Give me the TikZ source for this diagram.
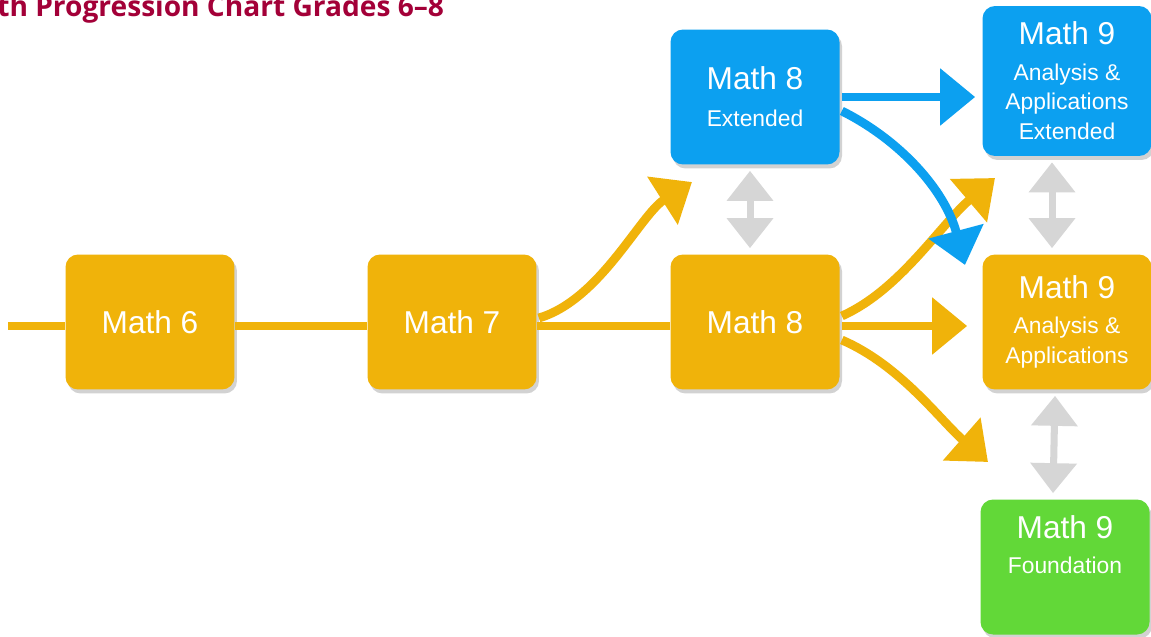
\documentclass[tikz,border=0pt]{standalone}
\usepackage{fontspec}
\setmainfont{Liberation Sans}
\newfontfamily\titlefont{Open Sans}
\usetikzlibrary{arrows.meta,shadows,calc}
\definecolor{mathorange}{RGB}{240,179,10}
\definecolor{mathblue}{RGB}{12,160,240}
\definecolor{mathgreen}{RGB}{98,216,56}
\definecolor{swapgray}{RGB}{214,214,214}
\definecolor{titlered}{RGB}{163,0,56}
\newcommand{\sublabel}[1]{{\fontsize{13}{17}\selectfont #1}}

\begin{document}
\begin{tikzpicture}[x=0.02cm, y=-0.02cm,
        course/.style={rectangle, rounded corners=0.25cm, minimum width=3.38cm, minimum height=2.7cm, align=center, text=white, inner sep=2pt, font=\fontsize{18}{20}\selectfont, drop shadow={shadow xshift=0.05cm, shadow yshift=-0.08cm, opacity=0.35}},
        flowline/.style={line width=5pt, draw=mathorange},
        flow/.style={flowline, -{Triangle[length=0.7cm, width=1.1cm]}},
        bluflow/.style={line width=5pt, draw=mathblue, -{Triangle[length=0.7cm, width=1.1cm]}},
        swap/.style={line width=4pt, draw=swapgray, {Triangle[length=0.6cm, width=0.9cm]}-{Triangle[length=0.6cm, width=0.9cm]}}
    ]
        \useasboundingbox (0,0) rectangle (1151,636);
        \fill[white] (0,0) rectangle (1151,636);
        \clip (0,0) rectangle (1151,636);

        % Title
        \node[anchor=base west, inner sep=0, text=titlered, font=\titlefont\bfseries\fontsize{16}{18}\selectfont] (title) at (-3,16) {th Progression Chart Grades 6–8};

        % Grade 6-8 courses
        \node[course, fill=mathorange] (m6) at (150,322) {Math 6};
        \node[course, fill=mathorange] (m7) at (452,322) {Math 7};
        \node[course, fill=mathorange] (m8) at (755,322) {Math 8};
        \node[course, fill=mathblue] (m8e) at (755,97) {Math 8\\[1pt] \sublabel{Extended}};

        % Grade 9 courses
        \node[course, fill=mathblue, minimum height=3cm] (m9e) at (1067,81) {Math 9\\ \sublabel{Analysis \&}\\[-3pt] \sublabel{Applications}\\[-3pt] \sublabel{Extended}};
        \node[course, fill=mathorange] (m9aa) at (1067,322) {Math 9\\ \sublabel{Analysis \&}\\[-3pt] \sublabel{Applications}};
        \node[course, fill=mathgreen] (m9f) at (1065,567) {Math 9\\ \sublabel{Foundation}\\ \strut};

        % Free arrow ends
        \coordinate (entry) at (8,326);
        \coordinate (t1) at (692,182);
        \coordinate (t2) at (995,178);
        \coordinate (t3) at (988,462);
        \coordinate (t4) at (965,265);

        % Orange paths
        \draw[flowline] (entry) -- ($(m6.west)+(0,4)$);
        \draw[flowline] ($(m6.east)+(0,4)$) -- ($(m7.west)+(0,4)$);
        \draw[flowline] ($(m7.east)+(0,4)$) -- ($(m8.west)+(0,4)$);
        \draw[flow] ($(m7.east)+(2,-4)$) .. controls (600,300) and (640,215) .. (t1);
        \draw[flow, shorten >=0.3cm] ($(m8.east)+(2,4)$) -- ($(m9aa.west)+(0,4)$);
        \draw[flow] ($(m8.east)+(2,-6)$) .. controls (900,290) and (940,225) .. (t2);
        \draw[flow] ($(m8.east)+(2,18)$) .. controls (900,365) and (940,420) .. (t3);

        % Blue paths
        \draw[bluflow, shorten >=0.14cm] ($(m8e.east)+(2,0)$) -- (m8e.east -| m9e.west);
        \draw[bluflow] ($(m8e.east)+(2,14)$) .. controls (900,140) and (945,190) .. (t4);

        % Switching between levels
        \draw[swap] ($(m8e.south)+(-5,6)$) -- ($(m8.north)+(-5,-6)$);
        \draw[swap] ($(m9e.south)+(-15,6)$) -- ($(m9aa.north)+(-15,-6)$);
        \draw[swap] ($(m9aa.south)+(-12,6)$) -- ($(m9f.north)+(-12,-6)$);
    \end{tikzpicture}
\end{document}
